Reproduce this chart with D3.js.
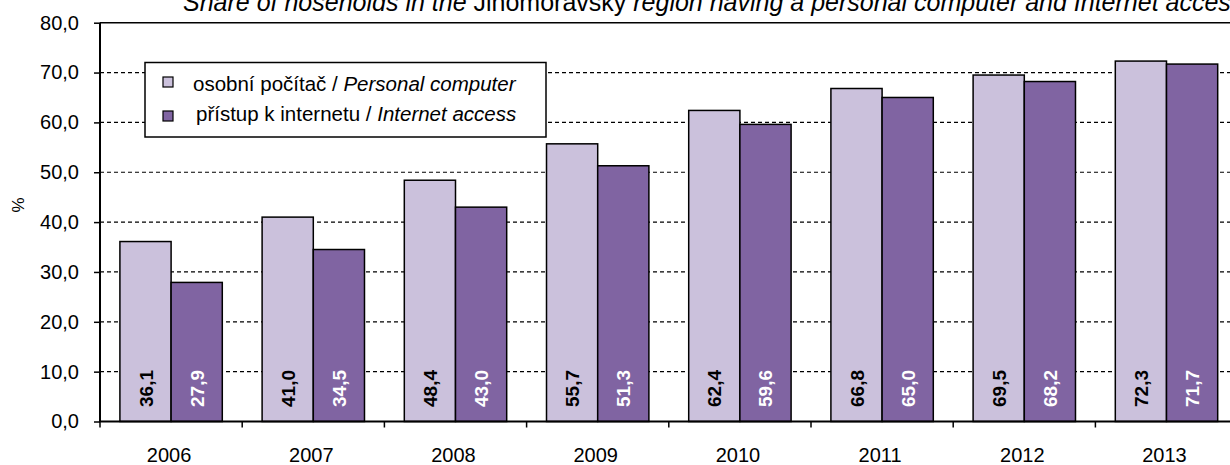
<!DOCTYPE html>
<html><head><meta charset="utf-8">
<script src="https://cdn.jsdelivr.net/npm/d3@7"></script>
<style>body{margin:0;background:#fff}svg{display:block;font-family:"Liberation Sans",Arial,sans-serif}</style>
</head><body><svg id="c" width="1230" height="465"></svg>
<script>
const years = ["2006","2007","2008","2009","2010","2011","2012","2013"];
const computer = [36.1,41.0,48.4,55.7,62.4,66.8,69.5,72.3];
const internet = [27.9,34.5,43.0,51.3,59.6,65.0,68.2,71.7];
const yTicks = [0,10,20,30,40,50,60,70,80];
const seriesNames = [["osobní počítač / ","Personal computer"],["přístup k internetu / ","Internet access"]];
const colors = ["#CBC1DC","#8064A2"];
const fmt = d => d3.format(".1f")(d).replace(".",",");

const svg = d3.select("#c");
const L = 100, B = 421.5, T = 22.7, step = 142.2;
const R = L + step*years.length;
const y = d3.scaleLinear().domain([0,80]).range([B,T]);
const x = d3.scaleBand().domain(years).range([L,R]).paddingInner(0.28).paddingOuter(0.14);
const xs = d3.scaleBand().domain([0,1]).range([0,x.bandwidth()]);

// gridlines
svg.append("g").selectAll("line").data(yTicks.filter(d=>d>0 && d<80)).join("line")
  .attr("x1",L).attr("x2",1230).attr("y1",d=>y(d)).attr("y2",d=>y(d))
  .attr("stroke","#000").attr("stroke-width",1.2).attr("stroke-dasharray","4,3");
svg.append("line").attr("x1",L).attr("x2",1230).attr("y1",y(80)).attr("y2",y(80))
  .attr("stroke","#000").attr("stroke-width",1.6);

// y axis
const ya = svg.append("g").attr("transform",`translate(${L},0)`)
  .call(d3.axisLeft(y).tickValues(yTicks).tickSize(6).tickPadding(15).tickFormat(fmt));
ya.select(".domain").attr("stroke-width",2).attr("d",`M0,${T}V${B}`);
ya.selectAll(".tick line").attr("stroke-width",1.5);
ya.selectAll("text").attr("font-size",20).attr("fill","#000").attr("font-family","Liberation Sans, Arial");

svg.append("text").attr("transform","translate(24,205) rotate(-90)").attr("text-anchor","middle")
  .attr("font-size",17).text("%");

// bars
const data = years.map((yr,i)=>({yr, vals:[computer[i],internet[i]]}));
const g = svg.append("g").selectAll("g").data(data).join("g").attr("transform",d=>`translate(${x(d.yr)},0)`);
g.selectAll("rect").data(d=>d.vals.map((v,k)=>({v,k}))).join("rect")
  .attr("x",d=>xs(d.k)).attr("width",xs.bandwidth()).attr("y",d=>y(d.v)).attr("height",d=>B-y(d.v))
  .attr("fill",d=>colors[d.k]).attr("stroke","#000").attr("stroke-width",1.5);
g.selectAll("text").data(d=>d.vals.map((v,k)=>({v,k}))).join("text")
  .attr("transform",d=>`translate(${xs(d.k)+xs.bandwidth()/2+7},${B-14.5}) rotate(-90)`)
  .attr("font-size",19).attr("font-weight","bold").attr("fill",d=>d.k?"#fff":"#000")
  .text(d=>fmt(d.v));

// x axis
svg.append("line").attr("x1",L-1).attr("x2",1230).attr("y1",B).attr("y2",B).attr("stroke","#000").attr("stroke-width",2);
svg.append("g").selectAll("line").data(d3.range(years.length+1)).join("line")
  .attr("x1",i=>L+i*step).attr("x2",i=>L+i*step).attr("y1",B).attr("y2",B+6).attr("stroke","#000").attr("stroke-width",1.5);
svg.append("g").selectAll("text").data(years).join("text")
  .attr("x",d=>x(d)+x.bandwidth()/2-2).attr("y",462).attr("text-anchor","middle").attr("font-size",20).text(d=>d);

// title
const t = svg.append("text").attr("x",183).attr("y",11).attr("font-size",25);
t.append("tspan").attr("font-style","italic").text("Share of hoseholds  in the ");
t.append("tspan").text("Jihomoravský");
t.append("tspan").attr("font-style","italic").text(" region having a personal computer and Internet access");

// legend
const lg = svg.append("g");
lg.append("rect").attr("x",145).attr("y",62.5).attr("width",401).attr("height",74.5).attr("fill","#fff").attr("stroke","#000").attr("stroke-width",1.5);
seriesNames.forEach((s,k)=>{
  const base = 90.5 + k*30.5;
  lg.append("rect").attr("x",163).attr("y",k?111:77).attr("width",10).attr("height",10).attr("fill",colors[k]).attr("stroke","#000").attr("stroke-width",1.2);
  const tx = lg.append("text").attr("x",k?196:193).attr("y",base).attr("font-size",20.5);
  tx.append("tspan").text(s[0]);
  tx.append("tspan").attr("font-style","italic").text(s[1]);
});
</script></body></html>
